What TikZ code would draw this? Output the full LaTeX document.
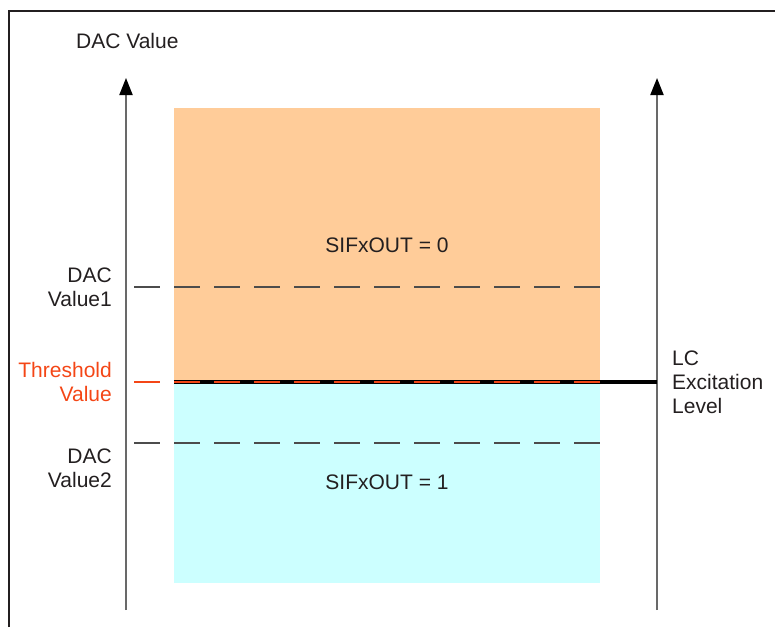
\documentclass[tikz,border=0pt]{standalone}
\usepackage{fontspec}
\setmainfont{Liberation Sans}
\usetikzlibrary{arrows.meta}
\definecolor{offpeach}{RGB}{255,204,153}
\definecolor{oncyan}{RGB}{204,255,255}
\definecolor{threshred}{RGB}{244,70,22}
\definecolor{axisgray}{RGB}{105,105,105}
\definecolor{inkgray}{RGB}{35,31,32}
\tikzset{%
  every text/.style={
    font=\fontsize{21}{24}\selectfont,
    text=inkgray
  },
  level label/.style={
    every text,
    align=right,
    anchor=east,
    inner sep=0pt
  },
  zone/.style={
    every text,
    minimum width=426pt,
    inner sep=0pt
  },
  axis line/.style={
    draw=axisgray,
    line width=2pt,
    -{Triangle[width=13pt,length=17pt,color=black]}
  },
  dac dash/.style={
    draw=black!70,
    line width=1.4pt,
    dash pattern=on 26pt off 14pt
  },
}

\begin{document}
\begin{tikzpicture}[x=1pt, y=-1pt]
\useasboundingbox (0,0) rectangle (775,627);
\draw[line width=2pt, inkgray] (9,627) -- (9,11) -- (775,11);

    % the two zones of the comparator output
    \node[zone, fill=offpeach, minimum height=274pt] (off_zone) at (387,245) {SIFxOUT = 0};
    \node[zone, fill=oncyan, minimum height=201pt] (on_zone) at (387,482.5) {SIFxOUT = 1};

    % axes
    \coordinate (dac_foot) at (126,610);
    \coordinate (dac_tip) at (126,78);
    \coordinate (lc_foot) at (657,610);
    \coordinate (lc_tip) at (657,78);
    \draw[axis line] (dac_foot) -- (dac_tip);
    \draw[axis line] (lc_foot) -- (lc_tip);
    \node[every text, anchor=base west, inner sep=0pt] (dac_title) at (76,48) {DAC Value};

    % levels
    \foreach \name/\y in {value_1/287, value_2/443}
        \coordinate (\name) at (134,\y);
    \coordinate (thresh) at (134,382);
    \draw[dac dash] (value_1) -- (value_1 -| off_zone.east);
    \draw[dac dash] (value_2) -- (value_2 -| on_zone.east);
    \draw[line width=3.5pt, black] (thresh -| off_zone.west) -- (thresh -| lc_foot);
    \draw[dac dash, draw=threshred, line width=1.6pt] (thresh) -- (thresh -| off_zone.east);

    \node[level label] (value_1_text) at (112,287) {DAC\\Value1};
    \node[level label, text=threshred] (thresh_text) at (112,382) {Threshold\\Value};
    \node[level label] (value_2_text) at (112,468) {DAC\\Value2};
    \node[level label, align=left, anchor=west] (lc_text) at (672,382) {LC\\Excitation\\Level};
\end{tikzpicture}
\end{document}
